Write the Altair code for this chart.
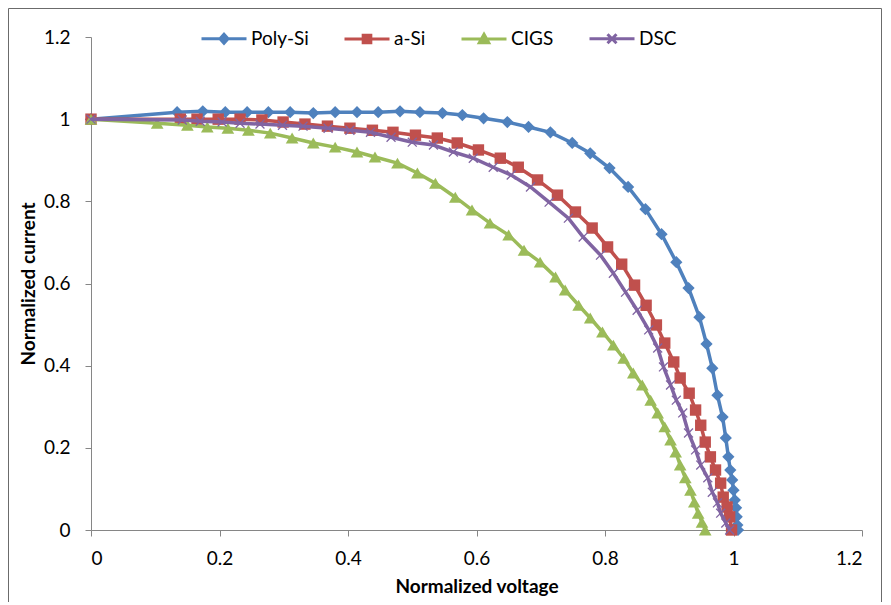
import altair as alt
import pandas as pd

SERIES = ["Poly-Si", "a-Si", "CIGS", "DSC"]
COLORS = ["#4F81BD", "#C0504D", "#9BBB59", "#8064A2"]

X_TICKS = [0, 0.2, 0.4, 0.6, 0.8, 1.0, 1.2]
Y_TICKS = [0, 0.2, 0.4, 0.6, 0.8, 1.0, 1.2]

poly_v = [0, 0.134, 0.174, 0.209, 0.243, 0.276, 0.310, 0.346, 0.380, 0.414, 0.447, 0.481, 0.512, 0.547,
          0.578, 0.611, 0.648, 0.681, 0.715, 0.749, 0.777, 0.807, 0.836, 0.863, 0.888, 0.911, 0.930, 0.947,
          0.958, 0.967, 0.975, 0.983, 0.988, 0.992, 0.995, 0.998, 1.000, 1.002, 1.004, 1.005, 1.006, 1.007]
poly_i = [1.0, 1.017, 1.019, 1.017, 1.017, 1.017, 1.017, 1.015, 1.017, 1.017, 1.017, 1.019, 1.017, 1.015,
          1.010, 1.002, 0.993, 0.981, 0.968, 0.942, 0.917, 0.881, 0.835, 0.781, 0.720, 0.652, 0.589, 0.518,
          0.453, 0.394, 0.328, 0.275, 0.224, 0.178, 0.146, 0.122, 0.097, 0.073, 0.054, 0.032, 0.012, 0.0]

asi_v = [0, 0.139, 0.165, 0.198, 0.232, 0.266, 0.299, 0.333, 0.368, 0.403, 0.438, 0.470, 0.505, 0.539,
         0.570, 0.603, 0.637, 0.665, 0.695, 0.726, 0.754, 0.780, 0.804, 0.826, 0.846, 0.864, 0.880, 0.893,
         0.907, 0.917, 0.931, 0.941, 0.949, 0.956, 0.964, 0.972, 0.980, 0.984, 0.990, 0.994, 0.997]
asi_i = [1.0, 1.0, 1.0, 1.0, 1.0, 0.998, 0.993, 0.988, 0.983, 0.978, 0.973, 0.968, 0.961, 0.954,
         0.942, 0.925, 0.905, 0.883, 0.852, 0.815, 0.774, 0.735, 0.689, 0.647, 0.596, 0.547, 0.499, 0.455,
         0.409, 0.370, 0.333, 0.292, 0.255, 0.214, 0.178, 0.146, 0.114, 0.080, 0.056, 0.032, 0.0]

cigs_v = [0, 0.103, 0.150, 0.181, 0.213, 0.245, 0.279, 0.313, 0.346, 0.380, 0.414, 0.442, 0.477, 0.508,
          0.536, 0.567, 0.593, 0.621, 0.650, 0.674, 0.699, 0.723, 0.738, 0.759, 0.777, 0.796, 0.813, 0.829,
          0.844, 0.858, 0.871, 0.882, 0.893, 0.902, 0.910, 0.917, 0.925, 0.933, 0.939, 0.945, 0.951, 0.956]
cigs_i = [1.0, 0.990, 0.985, 0.981, 0.978, 0.973, 0.966, 0.954, 0.942, 0.932, 0.920, 0.908, 0.893, 0.869,
          0.844, 0.810, 0.779, 0.747, 0.718, 0.681, 0.652, 0.616, 0.584, 0.547, 0.516, 0.482, 0.450, 0.418,
          0.382, 0.353, 0.316, 0.285, 0.251, 0.219, 0.190, 0.158, 0.127, 0.097, 0.068, 0.041, 0.019, 0.0]

dsc_v = [0, 0.142, 0.170, 0.204, 0.232, 0.263, 0.298, 0.330, 0.369, 0.403, 0.435, 0.467, 0.500, 0.533,
         0.564, 0.595, 0.626, 0.654, 0.684, 0.713, 0.743, 0.766, 0.793, 0.813, 0.832, 0.850, 0.868, 0.882,
         0.891, 0.902, 0.911, 0.921, 0.930, 0.941, 0.949, 0.960, 0.967, 0.975, 0.980, 0.988, 0.994]
dsc_i = [1.0, 0.998, 0.995, 0.993, 0.990, 0.988, 0.985, 0.983, 0.978, 0.973, 0.968, 0.956, 0.944, 0.937,
         0.920, 0.905, 0.883, 0.864, 0.835, 0.798, 0.759, 0.713, 0.669, 0.625, 0.579, 0.535, 0.487, 0.443,
         0.397, 0.353, 0.316, 0.285, 0.236, 0.195, 0.158, 0.127, 0.092, 0.066, 0.041, 0.017, 0.0]

VALUES = {"Poly-Si": (poly_v, poly_i), "a-Si": (asi_v, asi_i),
          "CIGS": (cigs_v, cigs_i), "DSC": (dsc_v, dsc_i)}

X_PATH = "M-1,-1L1,1M1,-1L-1,1"
MARK_SHAPES = ["diamond", "square", "triangle-up", X_PATH]
MARK_SIZES = [150, 130, 160, 80]
MARK_FILLED = [True, True, True, False]

LEGEND_PATHS = [
    "M-1,0H1M0,-0.2L0.18,0L0,0.2L-0.18,0Z",
    "M-1,0H1M-0.17,-0.17H0.17V0.17H-0.17Z",
    "M-1,0H1M0,-0.21L0.21,0.17H-0.21Z",
    "M-1,0H1M-0.2,-0.2L0.2,0.2M0.2,-0.2L-0.2,0.2",
]

rows = []
for s in SERIES:
    vs, cs = VALUES[s]
    for k, (v, c) in enumerate(zip(vs, cs)):
        rows.append({"series": s, "v": v, "i": c, "k": k})
df = pd.DataFrame(rows)

W, H = 771, 493
FONT = "Lato"

x_enc = alt.X("v:Q", scale=alt.Scale(domain=[0, 1.2], nice=False, zero=False),
              axis=alt.Axis(values=X_TICKS, format="~g", title="Normalized voltage",
                            labelPadding=13, titlePadding=9))
y_enc = alt.Y("i:Q", scale=alt.Scale(domain=[0, 1.2], nice=False, zero=False),
              axis=alt.Axis(values=Y_TICKS, format="~g", title="Normalized current",
                            labelPadding=15, titlePadding=5))

base = alt.Chart(df).encode(x=x_enc, y=y_enc)

leg = alt.Legend(title=None, orient="none", legendX=109, legendY=-22.5, direction="horizontal",
                 symbolSize=2025, symbolStrokeWidth=3, symbolOpacity=1, labelFont=FONT,
                 labelFontSize=19, labelColor="black", labelOffset=3, columnPadding=29, padding=0)

legend_layer = base.mark_point(opacity=0, filled=True).encode(
    shape=alt.Shape("series:N", scale=alt.Scale(domain=SERIES, range=LEGEND_PATHS), legend=leg),
    fill=alt.Fill("series:N", scale=alt.Scale(domain=SERIES, range=COLORS), legend=leg),
    stroke=alt.Stroke("series:N", scale=alt.Scale(domain=SERIES, range=COLORS), legend=leg),
)

frame = alt.Chart(pd.DataFrame({"f": [0]})).mark_rect(
    fillOpacity=0, stroke="#6b6b6b", strokeWidth=1
).encode(x=alt.value(-82.5), x2=alt.value(W + 19.5), y=alt.value(-28.5), y2=alt.value(H + 120))

layers = [frame, legend_layer]
for s, c, shp, size, filled in zip(SERIES, COLORS, MARK_SHAPES, MARK_SIZES, MARK_FILLED):
    sub = base.transform_filter(alt.datum.series == s)
    layers.append(sub.mark_line(color=c, strokeWidth=3.5).encode(order="k:Q"))
    if filled:
        layers.append(sub.mark_point(shape=shp, size=size, filled=True, color=c, opacity=1))
    else:
        layers.append(sub.mark_point(shape=shp, size=size, filled=False, color=c, opacity=1,
                                     strokeWidth=1.3))

chart = alt.layer(*layers).properties(
    width=W, height=H, autosize="none",
    padding={"left": 83, "top": 29, "right": 20, "bottom": 72},
    background="white",
).configure_view(stroke=None).configure_axis(
    grid=False, domainColor="#868686", tickColor="#868686", tickSize=6, domainWidth=1,
    labelFont=FONT, labelFontSize=19, labelColor="black",
    titleFont=FONT, titleFontSize=19, titleFontWeight="bold", titleColor="black",
)

chart.save("out.html", embed_options={"renderer": "svg", "actions": False})
